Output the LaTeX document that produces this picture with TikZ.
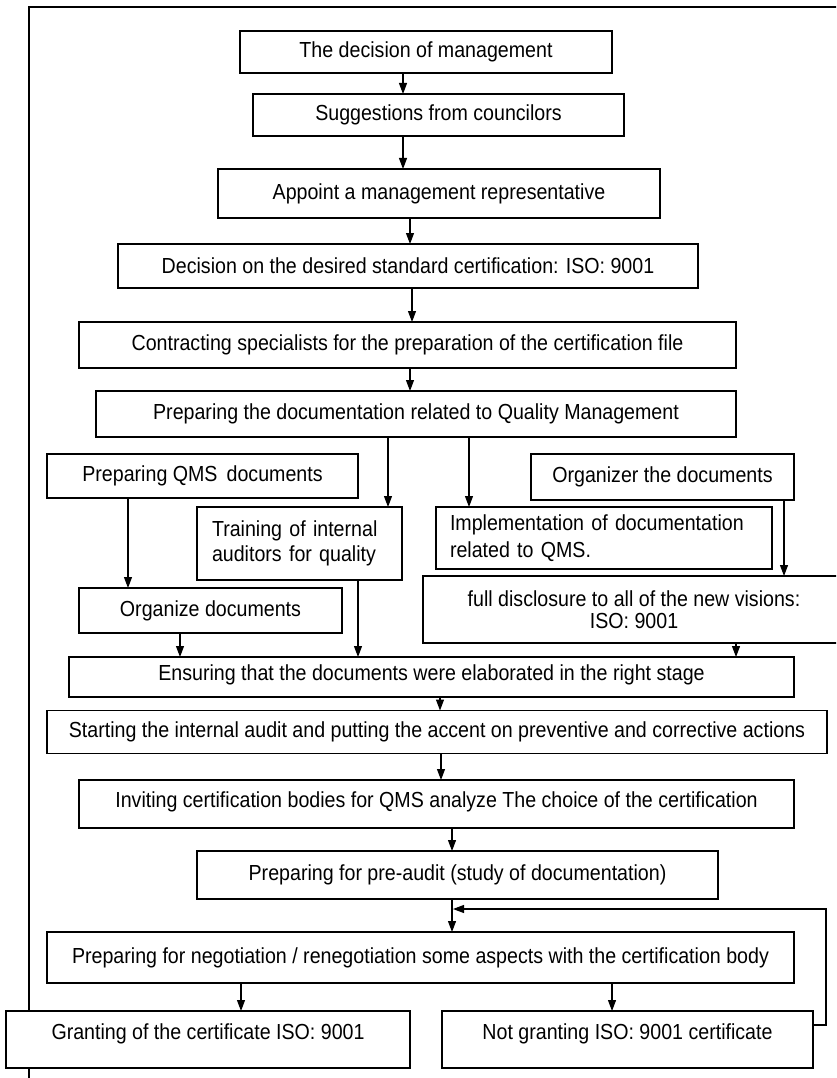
\documentclass[tikz,border=0pt]{standalone}
\usepackage{fontspec}
\setmainfont{Liberation Sans}[FakeStretch=0.9]
\usetikzlibrary{arrows.meta}
\begin{document}
\begin{tikzpicture}[x=1pt,y=-1pt,
  box/.style={draw=black, line width=1.1pt, fill=white, inner sep=0pt, outer sep=0pt,
    align=center, font=\fontsize{21.8}{24}\selectfont},
  arr/.style={draw=black, line width=1.1pt, -{Triangle[length=11pt,width=8pt]}},
  frame/.style={draw=black, line width=1.1pt}]
\fill[white] (0,0) rectangle (836,1078);
\useasboundingbox (0,0) rectangle (836,1078);
\clip (0,0) rectangle (836,1078);
% outer frame
\coordinate (ftl) at (29,7);
\coordinate (ftr) at (840,7);
\coordinate (fbl) at (29,1082);
\draw[frame] (ftr) -- (ftl) -- (fbl);
% boxes
\node[box, minimum width=372pt, minimum height=42pt] (dec) at (426,52) {The decision of management};
\node[box, minimum width=371pt, minimum height=42pt] (sug) at (438.5,115) {Suggestions from councilors};
\node[box, minimum width=442pt, minimum height=49pt] (app) at (439,193.5) {Appoint a management representative};
\node[box, minimum width=580pt, minimum height=44pt] (dsc) at (408,266) {Decision on the desired standard certification: ISO: 9001};
\node[box, minimum width=657pt, minimum height=46pt] (con) at (407.5,345) {Contracting specialists for the preparation of the certification file};
\node[box, minimum width=640pt, minimum height=46pt] (prep) at (416,414) {Preparing the documentation related to Quality Management};
\node[box, minimum width=311pt, minimum height=44pt] (qms) at (202.5,476) {Preparing QMS\, documents};
\node[box, minimum width=263pt, minimum height=46pt] (org) at (662.5,477) {Organizer the documents};
\node[box, align=left, inner xsep=15pt, text width=175pt, minimum height=73pt,
  font=\fontsize{21.8}{25}\selectfont] (train) at (299.5,543.5) {Training of internal\\auditors for quality};
\node[box, align=left, inner xsep=14pt, text width=308pt, minimum height=62pt,
  font=\fontsize{21.8}{27}\selectfont] (impl) at (604,538) {Implementation of documentation\\related to QMS.};
\node[box, minimum width=263pt, minimum height=45pt] (orgd) at (210.5,610.5) {Organize documents};
\node[box, minimum width=422pt, minimum height=67pt,
  font=\fontsize{21.8}{22}\selectfont] (full) at (634,609.5) {full disclosure to all of the new visions:\\ISO: 9001};
\node[box, minimum width=725pt, minimum height=40pt, text depth=9pt] (ens) at (431.5,677) {Ensuring that the documents were elaborated in the right stage};
\node[box, minimum width=780pt, minimum height=43pt] (start) at (437,732) {Starting the internal audit and putting the accent on preventive and corrective actions};
\node[box, minimum width=715pt, minimum height=48pt, text depth=9pt] (inv) at (436.5,804) {Inviting certification bodies for QMS analyze The choice of the certification};
\node[box, minimum width=521pt, minimum height=48pt] (pre) at (457.5,875) {Preparing for pre-audit (study of documentation)};
\node[box, minimum width=747pt, minimum height=51pt] (neg) at (420.5,957.5) {Preparing for negotiation / renegotiation some aspects with the certification body};
\node[box, minimum width=404pt, minimum height=57pt, text depth=15pt] (grant) at (208,1039.5) {Granting of the certificate ISO: 9001};
\node[box, minimum width=371pt, minimum height=57pt, text depth=15pt] (notg) at (627.5,1039.5) {Not granting ISO: 9001 certificate};
% connectors
\draw[arr] (dec.south -| 403,0) -- (sug.north -| 403,0);
\draw[arr] (sug.south -| 403,0) -- (app.north -| 403,0);
\draw[arr] (app.south -| 410,0) -- (dsc.north -| 410,0);
\draw[arr] (dsc.south -| 412,0) -- (con.north -| 412,0);
\draw[arr] (con.south -| 410,0) -- (prep.north -| 410,0);
\draw[arr] (prep.south -| 388,0) -- (train.north -| 388,0);
\draw[arr] (prep.south -| 469,0) -- (impl.north -| 469,0);
\draw[arr] (qms.south -| 128,0) -- (orgd.north -| 128,0);
\draw[arr] (org.south -| 784,0) -- (full.north -| 784,0);
\draw[arr] (orgd.south -| 180,0) -- (ens.north -| 180,0);
\draw[arr] (train.south -| 358,0) -- (ens.north -| 358,0);
\draw[arr] (full.south -| 736,0) -- (ens.north -| 736,0);
\draw[arr] (ens.south -| 440,0) -- (start.north -| 440,0);
\draw[arr] (start.south -| 441,0) -- (inv.north -| 441,0);
\draw[arr] (inv.south -| 452,0) -- (pre.north -| 452,0);
\draw[arr] (pre.south -| 452,0) -- (neg.north -| 452,0);
\draw[arr] (neg.south -| 241,0) -- (grant.north -| 241,0);
\draw[arr] (neg.south -| 612,0) -- (notg.north -| 612,0);
\coordinate (loopend) at (453,909);
\draw[arr] (notg.east |- 0,1025) -| (826,909) -- (loopend);
\end{tikzpicture}
\end{document}
